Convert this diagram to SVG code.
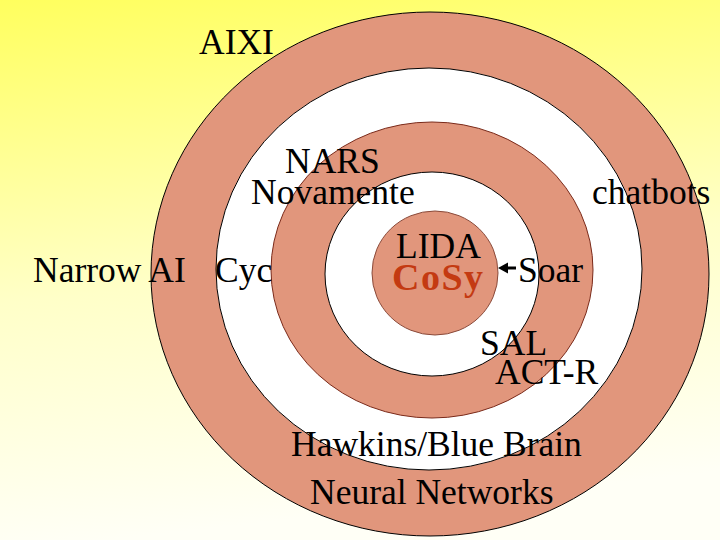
<svg xmlns="http://www.w3.org/2000/svg" width="720" height="540" viewBox="0 0 720 540">
  <defs>
    <linearGradient id="bg" x1="0" y1="0" x2="0.15" y2="1">
      <stop offset="0" stop-color="#FFFF5E"/>
      <stop offset="0.55" stop-color="#FFFFC8"/>
      <stop offset="1" stop-color="#FFFFF6"/>
    </linearGradient>
    <style>
      .lbl { font-family: "Liberation Serif", "Times New Roman", serif; font-size: 35.5px; fill: #000; }
      .pink { fill: #E1967C; }
      .white { fill: #FFFFFF; }
      .cosy { font-family: "Liberation Serif", "Times New Roman", serif; font-size: 38px; font-weight: bold; fill: #C43A12; letter-spacing: 1.5px; }
    </style>
  </defs>
  <rect x="0" y="0" width="720" height="540" fill="url(#bg)"/>

  <g id="rings">
    <ellipse id="ring-outer" class="pink" cx="430" cy="274" rx="279" ry="262" stroke="#000" stroke-width="1"/>
    <ellipse id="ring-2" class="white" cx="429" cy="269" rx="213" ry="201" stroke="#000" stroke-width="1"/>
    <ellipse id="ring-3" class="pink" cx="432" cy="270" rx="161" ry="148" stroke="#7A2A1A" stroke-width="1"/>
    <ellipse id="ring-4" class="white" cx="432" cy="274" rx="107" ry="102" stroke="#000" stroke-width="1"/>
    <ellipse id="ring-center" class="pink" cx="435" cy="273" rx="63" ry="62" stroke="#8A4A3A" stroke-width="1"/>
  </g>

  <g id="connectors">
    <line x1="516" y1="268" x2="505" y2="268" stroke="#000" stroke-width="3"/>
    <polygon points="498,268 508,262.5 508,273.5" fill="#000"/>
  </g>

  <g id="n-aixi"><text class="lbl" x="199" y="54">AIXI</text></g>
  <g id="n-nars"><text class="lbl" x="285" y="173">NARS</text></g>
  <g id="n-novamente"><text class="lbl" x="251" y="204">Novamente</text></g>
  <g id="n-chatbots"><text class="lbl" x="592" y="204">chatbots</text></g>
  <g id="n-narrow"><text class="lbl" x="33" y="282">Narrow AI</text></g>
  <g id="n-cyc"><text class="lbl" x="215" y="282">Cyc</text></g>
  <g id="n-lida"><text class="lbl" x="396" y="258">LIDA</text></g>
  <g id="n-cosy"><text class="cosy" x="392" y="290">CoSy</text></g>
  <g id="n-soar"><text class="lbl" x="518" y="282">Soar</text></g>
  <g id="n-sal"><text class="lbl" x="480" y="355">SAL</text></g>
  <g id="n-actr"><text class="lbl" x="495" y="384">ACT-R</text></g>
  <g id="n-hawkins"><text class="lbl" x="291" y="456">Hawkins/Blue Brain</text></g>
  <g id="n-neural"><text class="lbl" x="310" y="504">Neural Networks</text></g>
</svg>
